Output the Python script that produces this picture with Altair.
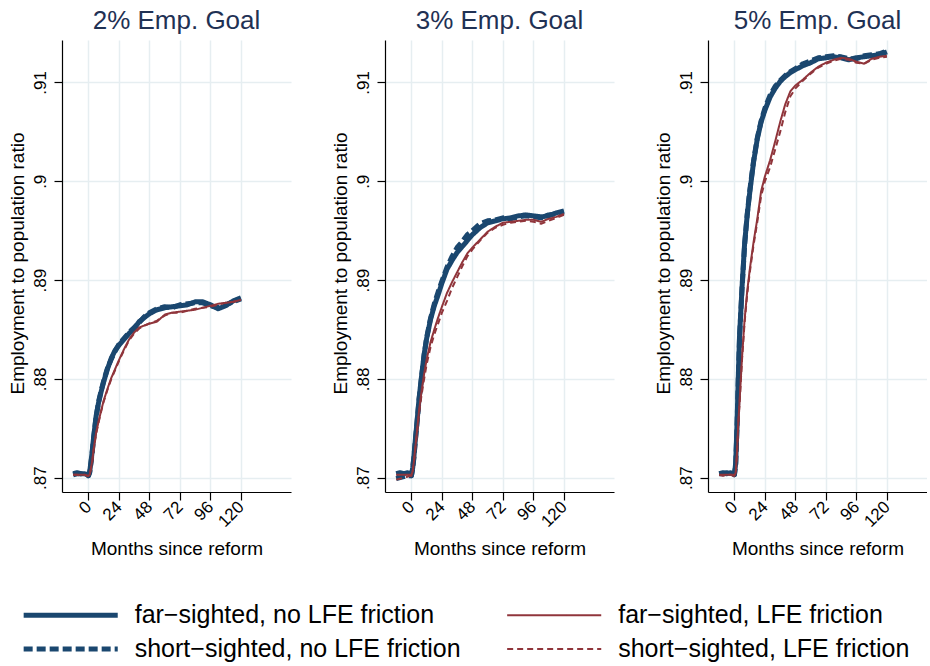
import altair as alt
import pandas as pd

months = [-12, -9, -6, -3, -1, 0, 1, 2, 3, 4, 6, 8, 10, 12, 15, 18, 21, 24, 28, 32,
          36, 40, 44, 48, 54, 60, 66, 72, 78, 84, 90, 96, 102, 108, 114, 120]

FAR_NO = "far−sighted, no LFE friction"
FAR_FR = "far−sighted, LFE friction"
SHORT_NO = "short−sighted, no LFE friction"
SHORT_FR = "short−sighted, LFE friction"
legend_order = [FAR_NO, SHORT_NO, FAR_FR, SHORT_FR]
draw_order = [FAR_NO, SHORT_NO, FAR_FR, SHORT_FR]
goal_titles = ["2% Emp. Goal", "3% Emp. Goal", "5% Emp. Goal"]

# ---- 2% goal ----
p1_far_nofric = [.8704, .8705, .8704, .8704, .8703, .8702, .8706, .8716, .8727, .8740, .8762, .8776,
                 .8787, .8797, .8810, .8821, .8829, .8834, .8840, .8846, .8851, .8858, .8862, .8866,
                 .8870, .8872, .8873, .8874, .8875, .8878, .8878, .8875, .8871, .8874, .8879, .8882]
p1_short_nofric = [.8703, .8704, .8704, .8703, .8703, .8702, .8705, .8715, .8726, .8739, .8761, .8777,
                   .8788, .8798, .8811, .8820, .8828, .8835, .8841, .8847, .8852, .8857, .8863, .8867,
                   .8871, .8873, .8872, .8875, .8876, .8877, .8877, .8874, .8872, .8875, .8878, .8881]
p1_far_fric = [.8703, .8703, .8703, .8703, .8702, .8702, .8703, .8710, .8717, .8728, .8745, .8757,
               .8768, .8778, .8790, .8801, .8810, .8819, .8830, .8840, .8847, .8852, .8854, .8856,
               .8858, .8865, .8867, .8868, .8869, .8870, .8872, .8874, .8876, .8877, .8878, .8880]
p1_short_fric = [.8703, .8703, .8702, .8703, .8702, .8702, .8703, .8709, .8716, .8727, .8744, .8756,
                 .8767, .8777, .8789, .8800, .8809, .8818, .8829, .8839, .8846, .8851, .8854, .8856,
                 .8859, .8864, .8867, .8867, .8869, .8871, .8872, .8873, .8875, .8877, .8878, .8880]

# ---- 3% goal ----
p2_far_nofric = [.8704, .8705, .8704, .8705, .8704, .8702, .8710, .8722, .8737, .8751, .8780, .8803,
                 .8825, .8841, .8860, .8874, .8885, .8897, .8911, .8920, .8928, .8934, .8940, .8946,
                 .8953, .8958, .8960, .8962, .8963, .8965, .8966, .8965, .8964, .8965, .8968, .8970]
p2_short_nofric = [.8699, .8700, .8701, .8702, .8702, .8702, .8709, .8721, .8736, .8750, .8779, .8802,
                   .8824, .8842, .8861, .8876, .8888, .8899, .8913, .8924, .8933, .8939, .8946, .8950,
                   .8957, .8960, .8961, .8963, .8962, .8964, .8965, .8964, .8963, .8966, .8967, .8969]
p2_far_fric = [.8703, .8703, .8703, .8703, .8703, .8702, .8707, .8717, .8730, .8742, .8768, .8788,
               .8805, .8820, .8837, .8850, .8862, .8873, .8887, .8898, .8908, .8918, .8927, .8933,
               .8941, .8949, .8954, .8958, .8959, .8960, .8961, .8961, .8959, .8962, .8964, .8967]
p2_short_fric = [.8698, .8699, .8700, .8701, .8702, .8702, .8706, .8716, .8728, .8740, .8765, .8784,
                 .8800, .8815, .8832, .8845, .8856, .8867, .8879, .8892, .8903, .8914, .8924, .8931,
                 .8940, .8948, .8953, .8956, .8958, .8959, .8960, .8959, .8957, .8960, .8963, .8966]

# ---- 5% goal ----
p3_far_nofric = [.8704, .8705, .8704, .8705, .8704, .8703, .8715, .8752, .8800, .8843, .8893, .8937,
                 .8965, .8988, .9019, .9043, .9060, .9072, .9085, .9094, .9101, .9106, .9110, .9113,
                 .9117, .9120, .9124, .9125, .9126, .9125, .9123, .9125, .9126, .9127, .9128, .9131]
p3_short_nofric = [.8704, .8704, .8705, .8704, .8704, .8703, .8713, .8750, .8798, .8841, .8892, .8935,
                   .8966, .8990, .9020, .9044, .9061, .9074, .9087, .9096, .9102, .9107, .9111, .9114,
                   .9119, .9122, .9125, .9126, .9127, .9126, .9124, .9124, .9127, .9128, .9129, .9132]
p3_far_fric = [.8703, .8703, .8703, .8703, .8703, .8702, .8705, .8725, .8755, .8776, .8822, .8860,
               .8888, .8910, .8938, .8962, .8990, .9005, .9021, .9040, .9060, .9078, .9091, .9097,
               .9103, .9110, .9116, .9120, .9123, .9125, .9124, .9121, .9119, .9124, .9126, .9127]
p3_short_fric = [.8703, .8702, .8703, .8703, .8702, .8702, .8704, .8723, .8753, .8774, .8820, .8857,
                 .8885, .8907, .8935, .8959, .8985, .9000, .9014, .9032, .9050, .9070, .9086, .9094,
                 .9102, .9109, .9115, .9119, .9122, .9124, .9123, .9120, .9119, .9123, .9125, .9126]

panels = [
    {FAR_NO: p1_far_nofric, FAR_FR: p1_far_fric, SHORT_NO: p1_short_nofric, SHORT_FR: p1_short_fric},
    {FAR_NO: p2_far_nofric, FAR_FR: p2_far_fric, SHORT_NO: p2_short_nofric, SHORT_FR: p2_short_fric},
    {FAR_NO: p3_far_nofric, FAR_FR: p3_far_fric, SHORT_NO: p3_short_nofric, SHORT_FR: p3_short_fric},
]

FONT = "Liberation Sans"
NAVY = "#1a476f"
MAROON = "#90353b"
GRID = "#e6eef1"

style = {
    FAR_NO: (NAVY, [1, 0], 5.0),
    SHORT_NO: (NAVY, [9, 4], 5.0),
    FAR_FR: (MAROON, [1, 0], 2.0),
    SHORT_FR: (MAROON, [6, 4], 2.0),
}
color_scale = alt.Scale(domain=legend_order, range=[style[s][0] for s in legend_order])
dash_scale = alt.Scale(domain=legend_order, range=[style[s][1] for s in legend_order])
width_scale = alt.Scale(type="ordinal", domain=legend_order, range=[style[s][2] for s in legend_order])

legend = alt.Legend(
    orient="none", legendX=-38.3, legendY=562.5, columns=2, title=None,
    labelFont=FONT, labelFontSize=25, labelColor="#000000", labelLimit=0,
    symbolType="M-5,0H5", symbolSize=354, symbolOffset=34.5, labelOffset=51.5,
    columnPadding=41.5, rowPadding=8, symbolFillColor="transparent",
)

PLOT_H = 452
Y_DOMAIN = [0.86855, 0.9143]
X_MIN = -20.8
PX_PER_MONTH = 1.2708


def panel(idx, width):
    xmax = X_MIN + width / PX_PER_MONTH
    layers = []
    for s in draw_order:
        df = pd.DataFrame({"month": months, "value": panels[idx][s], "series": s})
        layers.append(
            alt.Chart(df).mark_line(interpolate="linear", strokeCap="butt", strokeJoin="round").encode(
                x=alt.X("month:Q", scale=alt.Scale(domain=[X_MIN, xmax], nice=False, zero=False),
                        axis=alt.Axis(values=[0, 24, 48, 72, 96, 120], labelAngle=315,
                                      labelAlign="right", labelBaseline="middle",
                                      labelOverlap=False, labelFont=FONT, labelFontSize=17,
                                      labelColor="#000000", labelPadding=4, tickSize=8,
                                      tickColor="#000000", domainColor="#000000",
                                      domainWidth=1.2, tickWidth=1.2,
                                      grid=True, gridColor=GRID, gridWidth=1.5,
                                      title="Months since reform", titleFont=FONT,
                                      titleFontSize=19, titleFontWeight="normal",
                                      titleColor="#000000", titleBaseline="alphabetic",
                                      titleY=62)),
                y=alt.Y("value:Q", scale=alt.Scale(domain=Y_DOMAIN, nice=False, zero=False),
                        axis=alt.Axis(values=[0.87, 0.88, 0.89, 0.90, 0.91],
                                      labelExpr="substring(format(datum.value, '.2~f'), 1)",
                                      labelAngle=270, labelAlign="center",
                                      labelBaseline="alphabetic", labelOverlap=False,
                                      labelFont=FONT, labelFontSize=17, labelColor="#000000",
                                      labelPadding=9, tickSize=8, tickColor="#000000",
                                      tickWidth=1.2, domainColor="#000000", domainWidth=1.2,
                                      grid=True, gridColor=GRID, gridWidth=1.5,
                                      title="Employment to population ratio", titleFont=FONT,
                                      titleFontSize=19, titleFontWeight="normal",
                                      titleColor="#000000", titleAngle=270,
                                      titleAlign="center", titleBaseline="alphabetic",
                                      titleX=-38.5, titleY=223)),
                color=alt.Color("series:N", scale=color_scale, legend=legend),
                strokeDash=alt.StrokeDash("series:N", scale=dash_scale, legend=legend),
                strokeWidth=alt.StrokeWidth("series:N", scale=width_scale, legend=legend),
            )
        )
    return alt.layer(*layers).properties(
        width=width, height=PLOT_H,
        title=alt.Title(goal_titles[idx], font=FONT, fontSize=26, fontWeight="normal",
                        color="#1f3154", anchor="middle", frame="group",
                        baseline="alphabetic", offset=-14.5),
    )


chart = alt.hconcat(panel(0, 229), panel(1, 229), panel(2, 219), spacing=40).properties(
    padding={"left": 8, "top": 7, "right": 0, "bottom": 0},
    background="#ffffff",
).configure_view(stroke=None)

chart.save("out.html", embed_options={"renderer": "svg", "actions": False})
